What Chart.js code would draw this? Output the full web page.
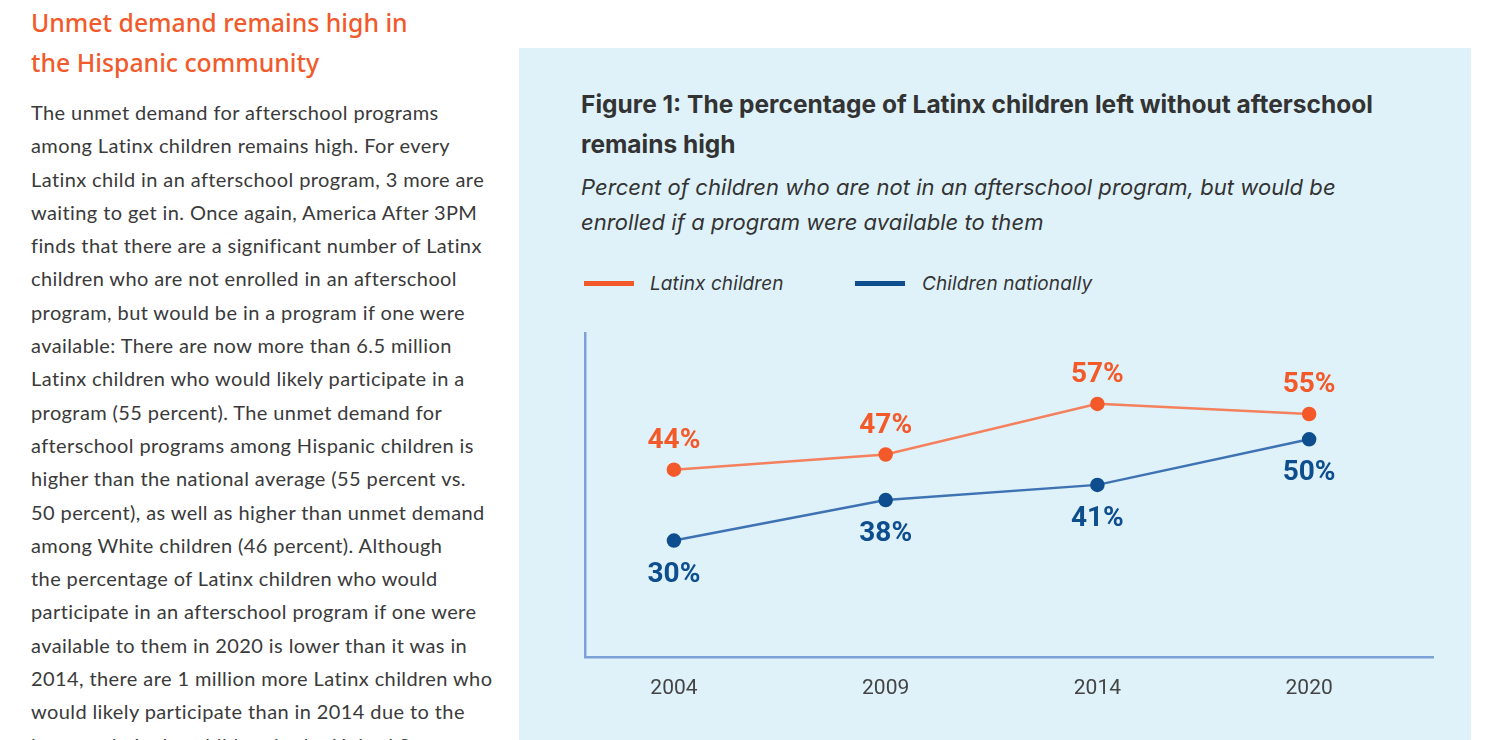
<!DOCTYPE html>
<html>
<head>
<meta charset="utf-8">
<script src="https://cdn.jsdelivr.net/npm/chart.js@4.4.1/dist/chart.umd.min.js"></script>
<style>
  body { margin:0; width:1500px; height:740px; overflow:hidden; background:#fff; position:relative; font-family:Lato, "Noto Sans", sans-serif; }
  #heading { position:absolute; left:31px; top:2px; color:#F15A2B; font-family:"Noto Sans", sans-serif; font-size:24.8px; line-height:40px; font-weight:500; }
  #body { position:absolute; left:31px; top:96px; color:#3a3a3a; font-size:20px; letter-spacing:0.4px; line-height:33.3px; white-space:nowrap; }
  #panel { position:absolute; left:519px; top:48px; width:952px; height:700px; background:#DFF2FA; }
  #title { position:absolute; left:581px; top:84px; color:#333; font-family:Inter, sans-serif; font-weight:700; font-size:24.5px; line-height:40px; letter-spacing:0px; }
  #sub { position:absolute; left:581px; top:170px; color:#333; font-family:Inter, sans-serif; font-style:italic; font-size:22px; line-height:35px; letter-spacing:0.05px; }
  .leg { position:absolute; top:272px; font-family:Inter, sans-serif; font-style:italic; font-size:19px; color:#333; line-height:24px; letter-spacing:0.1px; }
  .leg i { position:absolute; top:9px; width:50px; height:5px; }
  .leg span { position:absolute; white-space:nowrap; }
  #wrap { position:absolute; left:519px; top:300px; width:952px; height:420px; }
</style>
</head>
<body>
<div id="heading">Unmet demand remains high in<br>the Hispanic community</div>
<div id="body">The unmet demand for afterschool programs<br>among Latinx children remains high. For every<br>Latinx child in an afterschool program, 3 more are<br>waiting to get in. Once again, America After 3PM<br>finds that there are a significant number of Latinx<br>children who are not enrolled in an afterschool<br>program, but would be in a program if one were<br>available: There are now more than 6.5 million<br>Latinx children who would likely participate in a<br>program (55 percent). The unmet demand for<br>afterschool programs among Hispanic children is<br>higher than the national average (55 percent vs.<br>50 percent), as well as higher than unmet demand<br>among White children (46 percent). Although<br>the percentage of Latinx children who would<br>participate in an afterschool program if one were<br>available to them in 2020 is lower than it was in<br>2014, there are 1 million more Latinx children who<br>would likely participate than in 2014 due to the<br>increase in Latinx children in the United States</div>
<div id="panel"></div>
<div id="title">Figure 1: The percentage of Latinx children left without afterschool<br>remains high</div>
<div id="sub">Percent of children who are not in an afterschool program, but would be<br>enrolled if a program were available to them</div>
<div class="leg" style="left:584px"><i style="background:#F4592A;left:0"></i><span style="left:66px">Latinx children</span></div>
<div class="leg" style="left:855px"><i style="background:#0E4E8E;left:0"></i><span style="left:67px">Children nationally</span></div>
<div id="wrap"><canvas id="chart"></canvas></div>
<script>
const years = ['2004', '2009', '2014', '2020'];
const latinx = [44, 47, 57, 55];
const national = [30, 38, 41, 50];

// draw the % labels above (orange) or below (blue) each point
const valueLabels = {
  id: 'valueLabels',
  afterDatasetsDraw(chart) {
    const ctx = chart.ctx;
    ctx.save();
    ctx.font = 'bold 28px Roboto, sans-serif';
    ctx.textAlign = 'center';
    ctx.textBaseline = 'middle';
    chart.data.datasets.forEach((ds, i) => {
      const meta = chart.getDatasetMeta(i);
      meta.data.forEach((pt, j) => {
        ctx.fillStyle = ds.labelColor;
        ctx.fillText(ds.data[j].y + '%', pt.x, pt.y + ds.labelOffset);
      });
    });
    ctx.restore();
  }
};

const toPoints = arr => arr.map((v, i) => ({x: i, y: v}));

new Chart(document.getElementById('chart'), {
  type: 'line',
  data: {
    datasets: [
      {
        label: 'Latinx children',
        data: toPoints(latinx),
        borderColor: '#F5805E',
        backgroundColor: '#F4592A',
        pointBackgroundColor: '#F4592A',
        pointBorderColor: '#F4592A',
        borderWidth: 2.5,
        pointRadius: 6,
        labelColor: '#F4592A',
        labelOffset: -29
      },
      {
        label: 'Children nationally',
        data: toPoints(national),
        borderColor: '#3E72B3',
        backgroundColor: '#0E4E8E',
        pointBackgroundColor: '#0E4E8E',
        pointBorderColor: '#0E4E8E',
        borderWidth: 2.5,
        pointRadius: 6,
        labelColor: '#0E4E8E',
        labelOffset: 34
      }
    ]
  },
  options: {
    responsive: true,
    maintainAspectRatio: false,
    animation: false,
    layout: { padding: { left: 66, right: 38, top: 33, bottom: 0 } },
    plugins: { legend: { display: false }, tooltip: { enabled: false } },
    scales: {
      x: {
        type: 'linear',
        min: -0.42,
        max: 3.585,
        grid: { display: false },
        border: { display: true, color: '#7BA1D6', width: 2.5 },
        afterBuildTicks: s => { s.ticks = years.map((_, i) => ({value: i})); },
        ticks: {
          callback: v => years[v],
          color: '#444',
          font: { family: 'Roboto, sans-serif', size: 21 },
          padding: 11,
          maxRotation: 0
        },
        afterFit: s => { s.height = 63; }
      },
      y: {
        min: 7,
        max: 71,
        grid: { display: false },
        border: { display: true, color: '#7BA1D6', width: 2.5 },
        ticks: { display: false },
        afterFit: s => { s.width = 0; }
      }
    }
  },
  plugins: [valueLabels]
});
</script>
</body>
</html>
